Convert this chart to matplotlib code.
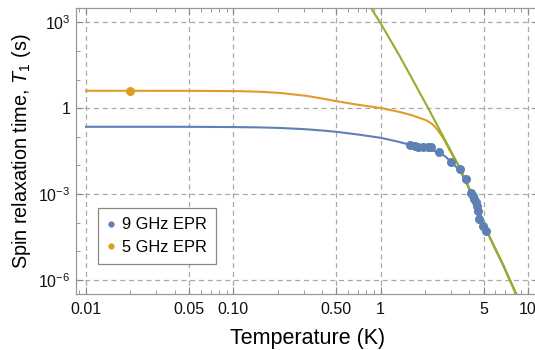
import numpy as np
import matplotlib
matplotlib.use('Agg')
import matplotlib.pyplot as plt
from matplotlib.lines import Line2D
from matplotlib.ticker import FixedLocator, FixedFormatter, NullFormatter

plt.rcParams['font.family'] = ['Liberation Sans', 'DejaVu Sans']
plt.rcParams['mathtext.fontset'] = 'custom'
plt.rcParams['mathtext.rm'] = 'Liberation Sans'
plt.rcParams['mathtext.it'] = 'Liberation Sans:italic'
plt.rcParams['mathtext.default'] = 'regular'

# measured T1 (s) vs temperature (K)
t_9ghz = [1.575, 1.703, 1.794, 1.941, 2.080, 2.213, 2.492, 2.995, 3.446, 3.767,
          4.075, 4.204, 4.293, 4.406, 4.478, 4.550, 4.666, 4.920, 5.178]
T1_9ghz = [0.0538, 0.0469, 0.0433, 0.0447, 0.0447, 0.0447, 0.0306, 0.0137, 0.0076, 0.0034,
           0.0011, 8.9e-4, 7.0e-4, 5.2e-4, 3.7e-4, 2.5e-4, 1.36e-4, 7.5e-5, 5.3e-5]
t_5ghz = [0.02]
T1_5ghz = [4.06]

# high-temperature phonon curve
t_phonon = [0.816, 0.984, 1.347, 2.098, 2.725, 3.446, 4.031, 4.715, 5.514, 6.760, 8.246, 9.10]
T1_phonon = [4769, 1050, 65.8, 1.016, 0.0805, 0.00824, 0.001436, 2.08e-4, 3.01e-5, 3.43e-6, 3.51e-7, 1.37e-7]

# fitted curves for each frequency (low-T part, then they join the phonon curve)
t_fit9 = [0.01, 0.05, 0.1, 0.15, 0.2, 0.3, 0.4, 0.5, 0.7, 1.0, 1.3, 1.6, 1.992, 2.223, 2.481,
          2.725, 2.994, 3.237, 3.446, 3.727, 4.031]
T1_fit9 = [0.224, 0.2235, 0.219, 0.213, 0.205, 0.186, 0.166, 0.1496, 0.1203, 0.0923, 0.0685,
           0.0517, 0.0396, 0.0345, 0.0282, 0.0213, 0.01367, 0.00915, 0.00664, 0.00321, 0.001325]
t_fit5 = [0.01, 0.05, 0.110, 0.15, 0.2056, 0.3125, 0.4, 0.5, 0.72, 1.0, 1.347, 1.651, 1.842,
          2.056, 2.258, 2.404, 2.559, 2.725, 2.944, 3.187]
T1_fit5 = [4.06, 4.04, 3.93, 3.75, 3.42, 2.70, 2.18, 1.76, 1.29, 1.016, 0.736, 0.556, 0.454,
           0.372, 0.269, 0.1874, 0.1203, 0.0713, 0.0332, 0.01607]

xticks = [0.01, 0.05, 0.1, 0.5, 1, 5, 10]
xticklabels = ['0.01', '0.05', '0.10', '0.50', '1', '5', '10']
yticks = [1e-6, 1e-3, 1, 1e3]
yticklabels = ['$10^{-6}$', '$10^{-3}$', '1', '$10^{3}$']

blue = '#5E81B5'
orange = '#E19C24'
green = '#8FB032'

fig = plt.figure(figsize=(5.35, 3.5), dpi=100)
ax = fig.add_axes([0.1421, 0.1609, 0.8666, 0.8149])
ax.set_xscale('log')
ax.set_yscale('log')

tp = np.array(t_phonon)
Tp = np.array(T1_phonon)
tail9 = tp > max(t_fit9)
tail5 = tp > max(t_fit5)
ax.plot(np.r_[t_fit9, tp[tail9]], np.r_[T1_fit9, Tp[tail9]], color=blue, lw=1.5, zorder=3)
ax.plot(np.r_[t_fit5, tp[tail5]], np.r_[T1_fit5, Tp[tail5]], color=orange, lw=1.5, zorder=3)
ax.plot(t_phonon, T1_phonon, color=green, lw=1.5, zorder=4)
ax.plot(t_9ghz, T1_9ghz, 'o', color=blue, ms=6.5, mec='none', zorder=5)
ax.plot(t_5ghz, T1_5ghz, 'o', color=orange, ms=6.5, mec='none', zorder=5)

ax.set_xlim(0.00855, 12)
ax.set_ylim(10**-6.479, 10**3.4825)

ax.xaxis.set_major_locator(FixedLocator(xticks))
ax.xaxis.set_major_formatter(FixedFormatter(xticklabels))
xminor = [0.009, 0.02, 0.03, 0.04, 0.06, 0.07, 0.08, 0.09, 0.2, 0.3, 0.4, 0.6, 0.7, 0.8, 0.9,
          2, 3, 4, 6, 7, 8, 9]
ax.xaxis.set_minor_locator(FixedLocator(xminor))
ax.xaxis.set_minor_formatter(NullFormatter())
ax.yaxis.set_major_locator(FixedLocator(yticks))
ax.yaxis.set_major_formatter(FixedFormatter(yticklabels))
ax.yaxis.set_minor_locator(FixedLocator([10.0**k for k in range(-7, 5) if k % 3 != 0]))
ax.yaxis.set_minor_formatter(NullFormatter())

ax.grid(True, which='major', color='#a8a8a8', lw=0.9, ls=(0, (4, 3)))
ax.tick_params(which='both', direction='in', top=True, right=True, color='#888888',
               labelsize=11.5, labelcolor='#111111')
ax.tick_params(axis='x', pad=6)
ax.tick_params(axis='y', pad=4)
ax.tick_params(which='major', length=5, width=0.8)
ax.tick_params(which='minor', length=3, width=0.6)
for s in ax.spines.values():
    s.set_color('#999999')
    s.set_linewidth(0.9)

ax.set_xlabel('Temperature (K)', fontsize=15.5, labelpad=8)
ax.set_ylabel('Spin relaxation time, $\\mathit{T}_1$ (s)', fontsize=14.3, labelpad=4)

handles = [Line2D([], [], ls='none', marker='o', color=blue, ms=4.5, mec='none'),
           Line2D([], [], ls='none', marker='o', color=orange, ms=4.5, mec='none')]
leg = ax.legend(handles, ['9 GHz EPR', '5 GHz EPR'], loc='upper left',
                bbox_to_anchor=(97.7 / 535, 1 - 208.3 / 350), bbox_transform=fig.transFigure,
                fontsize=11.8, frameon=True, fancybox=False, framealpha=1,
                edgecolor='#888888', handlelength=0.5, handletextpad=0.45,
                labelspacing=0.45, borderpad=0.55, borderaxespad=0)
leg.get_frame().set_linewidth(0.9)

fig.savefig('out.png', dpi=100)
